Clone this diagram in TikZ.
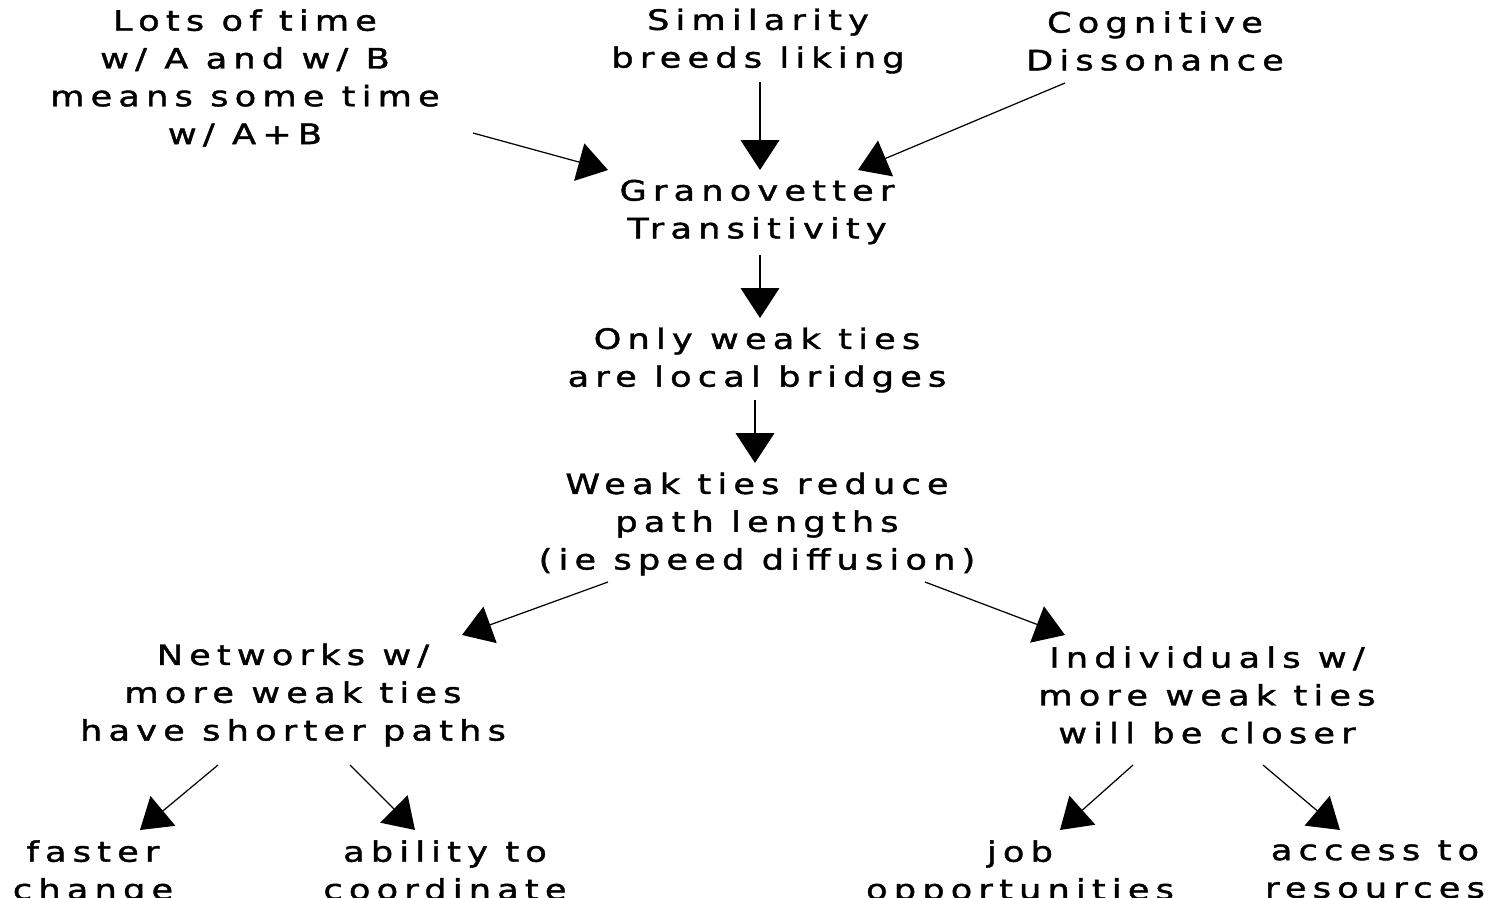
\documentclass[tikz,border=0pt]{standalone}
\usepackage{fontspec}
\setmainfont{DejaVu Sans}[FakeStretch=1.25,LetterSpace=22,FakeBold=1.5]
\usetikzlibrary{arrows.meta}
\begin{document}
\begin{tikzpicture}[x=0.02cm,y=-0.02cm,
  lbl/.style={align=center,inner sep=0pt,font=\fontsize{16}{21.5}\selectfont},
  arr/.style={line width=0.7pt,-{Triangle[length=17pt,width=22pt]}}]
\useasboundingbox (0,0) rectangle (1499,897);
\begin{scope}
\clip (0,0) rectangle (1499,897);
\node[lbl] (lots) at (245,78) {Lots of time\\w/ A and w/ B\\means some time\\w/ A+B};
\node[lbl] (sim) at (758,41) {Similarity\\breeds liking};
\node[lbl] (cog) at (1155,41) {Cognitive\\Dissonance};
\node[lbl] (gran) at (757,212) {Granovetter\\Transitivity};
\node[lbl] (only) at (757,360) {Only weak ties\\are local bridges};
\node[lbl] (weak) at (757,524) {Weak ties reduce\\path lengths\\(ie speed diffusion)};
\node[lbl] (net) at (293,695) {Networks w/\\more weak ties\\have shorter paths};
\node[lbl] (ind) at (1207,695) {Individuals w/\\more weak ties\\will be closer};
\node[lbl,anchor=north] (fast) at (93,840) {faster\\change};
\node[lbl,anchor=north] (abil) at (445,840) {ability to\\coordinate};
\node[lbl,anchor=north] (job) at (1020,840) {job\\opportunities};
\node[lbl,anchor=north] (acc) at (1375,840) {access to\\resources};
\end{scope}
\coordinate (lots-o) at (473,133);
\coordinate (sim-o) at (760,82);
\coordinate (cog-o) at (1065,83);
\coordinate (gran-i1) at (608,170);
\coordinate (gran-i2) at (760,170);
\coordinate (gran-i3) at (858,170);
\coordinate (gran-o) at (760,255);
\coordinate (only-i) at (760,318);
\coordinate (only-o) at (755,400);
\coordinate (weak-i) at (755,463);
\coordinate (weak-o1) at (608,582);
\coordinate (weak-o2) at (925,582);
\coordinate (net-i) at (462,635);
\coordinate (ind-i) at (1065,635);
\coordinate (net-o1) at (218,765);
\coordinate (net-o2) at (350,765);
\coordinate (ind-o1) at (1133,765);
\coordinate (ind-o2) at (1263,765);
\coordinate (fast-i) at (140,830);
\coordinate (abil-i) at (415,830);
\coordinate (job-i) at (1060,830);
\coordinate (acc-i) at (1340,830);
\draw[arr] (lots-o) -- (gran-i1);
\draw[arr] (sim-o) -- (gran-i2);
\draw[arr] (cog-o) -- (gran-i3);
\draw[arr] (gran-o) -- (only-i);
\draw[arr] (only-o) -- (weak-i);
\draw[arr] (weak-o1) -- (net-i);
\draw[arr] (weak-o2) -- (ind-i);
\draw[arr] (net-o1) -- (fast-i);
\draw[arr] (net-o2) -- (abil-i);
\draw[arr] (ind-o1) -- (job-i);
\draw[arr] (ind-o2) -- (acc-i);
\end{tikzpicture}
\end{document}
